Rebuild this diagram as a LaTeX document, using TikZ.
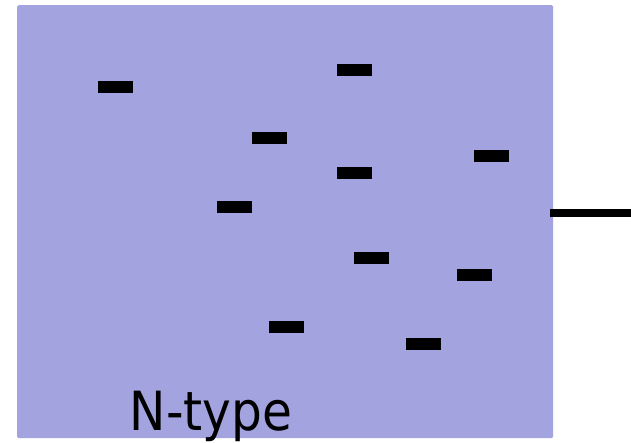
\documentclass[tikz,border=0pt]{standalone}
\usepackage{fontspec}
\newfontfamily\labelfont{DejaVu Sans Condensed}
\definecolor{ntype}{HTML}{A3A3DF}
\begin{document}
\begin{tikzpicture}[x=1pt,y=-1pt,
  carrier/.style={fill=black,inner sep=0pt,minimum width=35pt,minimum height=12pt,draw=none},
  region/.style={fill=ntype,draw=none,inner sep=0pt,rounded corners=1.5pt},
  wire/.style={line width=8pt,black}]
\useasboundingbox (0,0) rectangle (631,442);
\node[region,anchor=north west,minimum width=536pt,minimum height=433pt] (box) at (17,5) {};
\foreach \n/\x/\y in {1/98/81,2/337/64,3/252/132,4/474/150,5/337/167,6/217/201,7/354/252,8/457/269,9/269/321,10/406/338}{
  \node[carrier,anchor=north west] (d\n) at (\x,\y) {};
}
\coordinate (wend) at (631,213);
\draw[wire] (box.east |- wend) ++(-3,0) -- (wend);
\node[anchor=base,inner sep=0pt,font=\labelfont\fontsize{54}{60}\selectfont] (lbl) at (211,430) {N-type};
\end{tikzpicture}
\end{document}
